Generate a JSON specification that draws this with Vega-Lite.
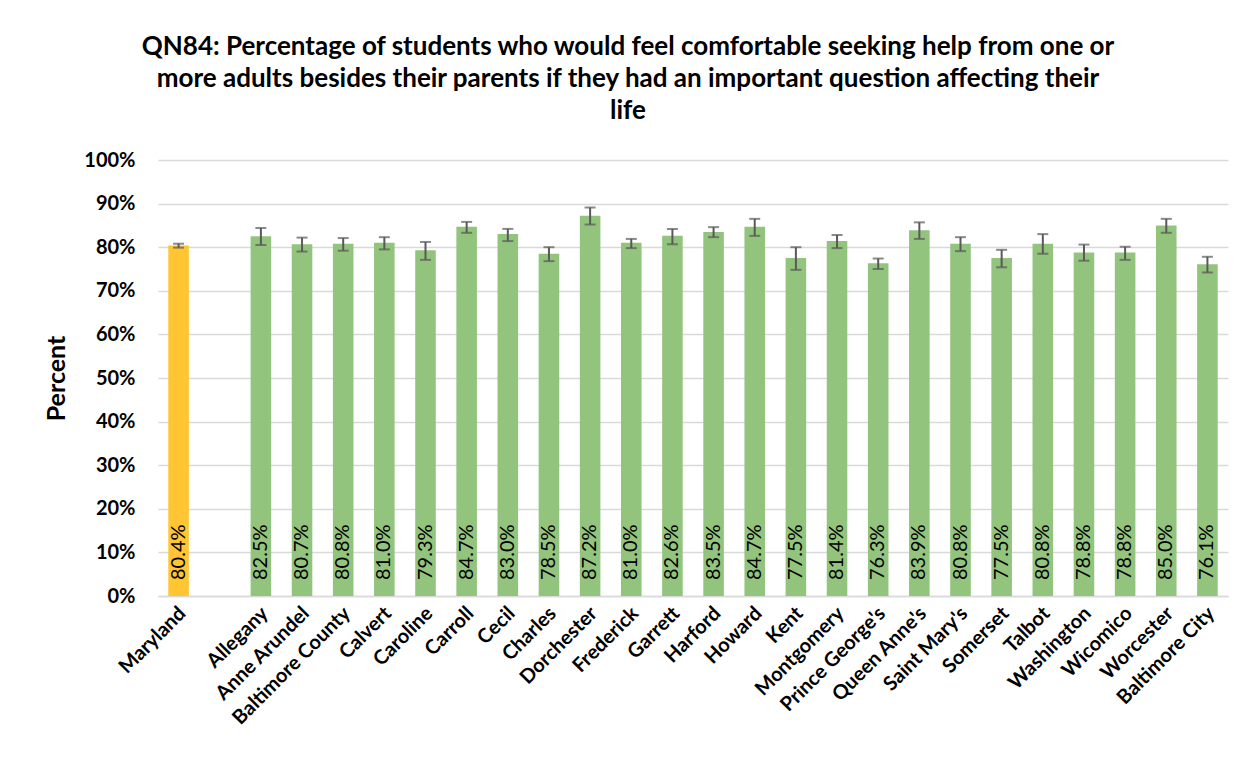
{
  "$schema": "https://vega.github.io/schema/vega-lite/v6.json",
  "autosize": "none",
  "width": 1070,
  "height": 436,
  "padding": {"left": 158, "top": 160, "right": 22, "bottom": 174},
  "background": "white",
  "title": {
    "text": ["QN84: Percentage of students who would feel comfortable seeking help from one or", "more adults besides their parents if they had an important question affecting their", "life"],
    "font": "Lato",
    "fontSize": 26,
    "fontWeight": "bold",
    "color": "#000000",
    "lineHeight": 32,
    "anchor": "middle",
    "dx": -65,
    "offset": 26
  },
  "data": {
    "values": [
      {"name": "Maryland", "group": "state", "value": 0.804, "lo": 0.799, "hi": 0.808},
      {"name": "Allegany", "group": "county", "value": 0.825, "lo": 0.805, "hi": 0.844},
      {"name": "Anne Arundel", "group": "county", "value": 0.807, "lo": 0.790, "hi": 0.822},
      {"name": "Baltimore County", "group": "county", "value": 0.808, "lo": 0.792, "hi": 0.821},
      {"name": "Calvert", "group": "county", "value": 0.810, "lo": 0.795, "hi": 0.823},
      {"name": "Caroline", "group": "county", "value": 0.793, "lo": 0.771, "hi": 0.812},
      {"name": "Carroll", "group": "county", "value": 0.847, "lo": 0.833, "hi": 0.858},
      {"name": "Cecil", "group": "county", "value": 0.830, "lo": 0.814, "hi": 0.842},
      {"name": "Charles", "group": "county", "value": 0.785, "lo": 0.768, "hi": 0.800},
      {"name": "Dorchester", "group": "county", "value": 0.872, "lo": 0.852, "hi": 0.891},
      {"name": "Frederick", "group": "county", "value": 0.810, "lo": 0.798, "hi": 0.819},
      {"name": "Garrett", "group": "county", "value": 0.826, "lo": 0.807, "hi": 0.842},
      {"name": "Harford", "group": "county", "value": 0.835, "lo": 0.823, "hi": 0.846},
      {"name": "Howard", "group": "county", "value": 0.847, "lo": 0.826, "hi": 0.865},
      {"name": "Kent", "group": "county", "value": 0.775, "lo": 0.748, "hi": 0.800},
      {"name": "Montgomery", "group": "county", "value": 0.814, "lo": 0.798, "hi": 0.828},
      {"name": "Prince George's", "group": "county", "value": 0.763, "lo": 0.750, "hi": 0.774},
      {"name": "Queen Anne's", "group": "county", "value": 0.839, "lo": 0.819, "hi": 0.857},
      {"name": "Saint Mary's", "group": "county", "value": 0.808, "lo": 0.791, "hi": 0.823},
      {"name": "Somerset", "group": "county", "value": 0.775, "lo": 0.754, "hi": 0.794},
      {"name": "Talbot", "group": "county", "value": 0.808, "lo": 0.785, "hi": 0.830},
      {"name": "Washington", "group": "county", "value": 0.788, "lo": 0.769, "hi": 0.806},
      {"name": "Wicomico", "group": "county", "value": 0.788, "lo": 0.771, "hi": 0.801},
      {"name": "Worcester", "group": "county", "value": 0.850, "lo": 0.833, "hi": 0.865},
      {"name": "Baltimore City", "group": "county", "value": 0.761, "lo": 0.742, "hi": 0.778}
    ]
  },
  "encoding": {
    "x": {
      "field": "name",
      "type": "nominal",
      "sort": null,
      "scale": {
        "domain": ["Maryland", " ", "Allegany", "Anne Arundel", "Baltimore County", "Calvert", "Caroline", "Carroll", "Cecil", "Charles", "Dorchester", "Frederick", "Garrett", "Harford", "Howard", "Kent", "Montgomery", "Prince George's", "Queen Anne's", "Saint Mary's", "Somerset", "Talbot", "Washington", "Wicomico", "Worcester", "Baltimore City"],
        "paddingInner": 0.5,
        "paddingOuter": 0.25
      },
      "axis": {
        "title": null,
        "labelAngle": -45,
        "labelAlign": "right",
        "labelBaseline": "middle",
        "labelFont": "Lato",
        "labelFontSize": 20,
        "labelFontWeight": "bold",
        "labelColor": "#000000",
        "labelPadding": 14,
        "labelOffset": 4,
        "ticks": false,
        "domainColor": "#D9D9D9",
        "domainWidth": 1.5,
        "labelOverlap": false,
        "labelLimit": 300
      }
    }
  },
  "layer": [
    {
      "mark": {"type": "bar"},
      "encoding": {
        "y": {
          "field": "value",
          "type": "quantitative",
          "scale": {"domain": [0, 1], "nice": false},
          "axis": {
            "title": "Percent",
            "titleFont": "Lato",
            "titleFontSize": 25,
            "titleFontWeight": "bold",
            "titleColor": "#000000",
            "titlePadding": 14,
            "format": ".0%",
            "values": [0, 0.1, 0.2, 0.3, 0.4, 0.5, 0.6, 0.7, 0.8, 0.9, 1],
            "labelOverlap": false,
            "labelFont": "Lato",
            "labelFontSize": 20,
            "labelFontWeight": "bold",
            "labelColor": "#000000",
            "labelPadding": 23,
            "ticks": false,
            "domain": false,
            "grid": true,
            "gridColor": "#D9D9D9",
            "gridWidth": 1.5
          }
        },
        "color": {
          "field": "group",
          "type": "nominal",
          "scale": {"domain": ["state", "county"], "range": ["#FFC533", "#93C47D"]},
          "legend": null
        }
      }
    },
    {
      "mark": {"type": "rule", "color": "#595959", "strokeWidth": 2},
      "encoding": {
        "y": {"field": "lo", "type": "quantitative"},
        "y2": {"field": "hi"}
      }
    },
    {
      "mark": {"type": "tick", "color": "#595959", "thickness": 2, "size": 11},
      "encoding": {
        "y": {"field": "lo", "type": "quantitative"}
      }
    },
    {
      "mark": {"type": "tick", "color": "#595959", "thickness": 2, "size": 11},
      "encoding": {
        "y": {"field": "hi", "type": "quantitative"}
      }
    },
    {
      "mark": {"type": "text", "angle": 270, "align": "left", "baseline": "middle", "dx": 16, "font": "Lato", "fontSize": 20, "color": "#000000"},
      "encoding": {
        "y": {"datum": 0, "type": "quantitative"},
        "text": {"field": "value", "type": "quantitative", "format": ".1%"}
      }
    }
  ],
  "config": {
    "view": {"stroke": null}
  }
}
